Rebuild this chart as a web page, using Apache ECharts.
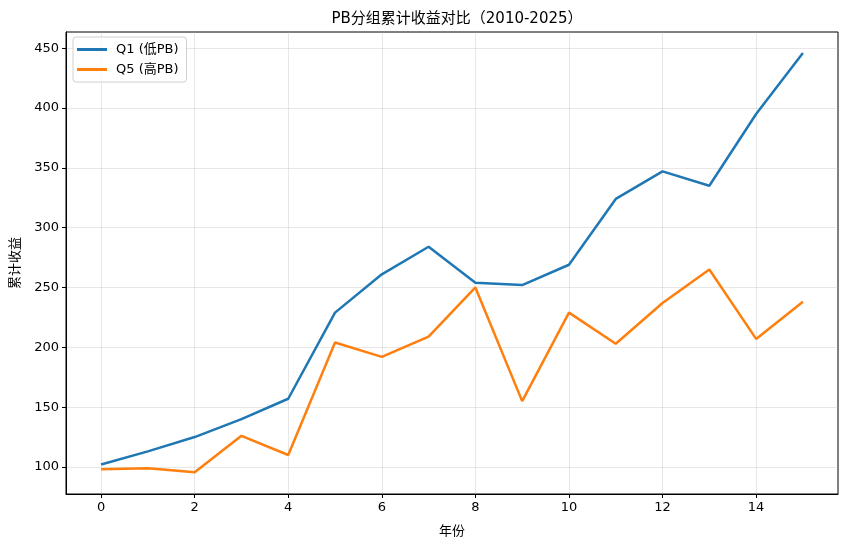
<!DOCTYPE html>
<html>
<head>
<meta charset="utf-8">
<script src="https://cdn.jsdelivr.net/npm/echarts@6/dist/echarts.min.js"></script>
<style>
  html, body { margin: 0; padding: 0; background: #fff; }
  #main { width: 850px; height: 547px; }
</style>
</head>
<body>
<div id="main"></div>
<script>
// years index 0..15
const xValues = [0, 1, 2, 3, 4, 5, 6, 7, 8, 9, 10, 11, 12, 13, 14, 15];
const q1Values = [102, 113, 125, 140, 157, 229, 261, 284, 254, 252, 269, 324, 347, 335, 395, 446];
const q5Values = [98, 99, 95.5, 126, 110, 204, 192, 209, 250, 155, 229, 203, 237, 265, 207, 238];
const xTicks = [0, 2, 4, 6, 8, 10, 12, 14];
const yTicks = [100, 150, 200, 250, 300, 350, 400, 450];

const font = "DejaVu Sans, 'Noto Sans CJK SC', sans-serif";

var chartDom = document.getElementById("main");
var myChart = echarts.init(chartDom);

const toPairs = (vals) => vals.map((v, i) => [xValues[i], v]);

let option = {
  animation: false,
  title: {
    text: "PB分组累计收益对比（2010-2025）",
    left: 452,
    textAlign: "center",
    top: 7,
    textStyle: { fontFamily: font, fontSize: 15, fontWeight: "normal", color: "#000" }
  },
  legend: {
    orient: "vertical",
    left: 73,
    top: 37,
    padding: [6, 8, 6, 4],
    itemGap: 7,
    itemWidth: 30,
    itemHeight: 3,
    icon: "rect",
    backgroundColor: "rgba(255,255,255,0.8)",
    borderColor: "#d0d0d0",
    borderWidth: 1,
    borderRadius: 3,
    textStyle: { fontFamily: font, fontSize: 13, color: "#000", padding: [0, 0, 0, 4] },
    data: ["Q1 (低PB)", "Q5 (高PB)"]
  },
  grid: {
    left: 66,
    right: 12,
    top: 32,
    bottom: 53,
    show: true,
    borderColor: "#000",
    borderWidth: 1
  },
  xAxis: {
    type: "value",
    min: -0.75,
    max: 15.75,
    name: "年份",
    nameLocation: "middle",
    nameGap: 31,
    nameTextStyle: { fontFamily: font, fontSize: 13, color: "#000" },
    axisLine: { show: true, onZero: false, lineStyle: { color: "#000" } },
    axisTick: { show: true, length: 4, customValues: xTicks, lineStyle: { color: "#000" } },
    axisLabel: { customValues: xTicks, fontFamily: font, fontSize: 13, color: "#000", margin: 7 },
    splitLine: { show: true, customValues: xTicks, lineStyle: { color: "rgba(176,176,176,0.3)" } }
  },
  yAxis: {
    type: "value",
    min: 77.4,
    max: 463.5,
    name: "累计收益",
    nameLocation: "middle",
    nameGap: 44,
    nameTextStyle: { fontFamily: font, fontSize: 13, color: "#000" },
    axisLine: { show: true, onZero: false, lineStyle: { color: "#000" } },
    axisTick: { show: true, length: 4, customValues: yTicks, lineStyle: { color: "#000" } },
    axisLabel: { customValues: yTicks, fontFamily: font, fontSize: 13, color: "#000", margin: 7 },
    splitLine: { show: true, customValues: yTicks, lineStyle: { color: "rgba(176,176,176,0.3)" } }
  },
  series: [
    {
      name: "Q1 (低PB)",
      type: "line",
      data: toPairs(q1Values),
      symbol: "none",
      color: "#1f77b4",
      lineStyle: { width: 2.5, color: "#1f77b4" }
    },
    {
      name: "Q5 (高PB)",
      type: "line",
      data: toPairs(q5Values),
      symbol: "none",
      color: "#ff7f0e",
      lineStyle: { width: 2.5, color: "#ff7f0e" }
    }
  ]
};

myChart.setOption(option);
</script>
</body>
</html>
